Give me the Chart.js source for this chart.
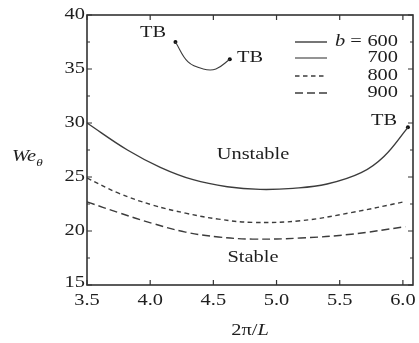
<!DOCTYPE html>
<html>
<head>
<meta charset="utf-8">
<script src="https://cdn.jsdelivr.net/npm/chart.js@4.4.1/dist/chart.umd.min.js"></script>
<style>
  html, body { margin: 0; padding: 0; background: #fff; }
  #wrap { width: 419px; height: 343px; }
</style>
</head>
<body>
<div id="wrap"><canvas id="c" width="419" height="343"></canvas></div>
<script>
// datos
var x600 = [3.5, 3.82, 4.08, 4.34, 4.61, 4.87, 5.13, 5.4, 5.67, 5.85, 6.04];
var y600 = [30.0, 27.5, 25.9, 24.75, 24.1, 23.85, 23.95, 24.35, 25.4, 26.9, 29.6];
var x700 = [4.2, 4.3, 4.42, 4.52, 4.63];
var y700 = [37.5, 35.65, 35.0, 35.0, 35.9];
var x800 = [3.5, 3.75, 4.02, 4.28, 4.54, 4.81, 5.19, 5.59, 6.01];
var y800 = [24.9, 23.5, 22.4, 21.65, 21.1, 20.8, 20.95, 21.7, 22.7];
var x900 = [3.5, 3.75, 4.02, 4.28, 4.54, 4.81, 5.19, 5.59, 6.02];
var y900 = [22.7, 21.7, 20.7, 19.9, 19.45, 19.25, 19.35, 19.7, 20.4];
var tbX = [4.2, 4.63, 6.04];
var tbY = [37.5, 35.9, 29.6];
var seriesNames = ['600', '700', '800', '900'];
var xTicks = [3.5, 4.0, 4.5, 5.0, 5.5, 6.0];
var yTicks = [15, 20, 25, 30, 35, 40];

function pts(xs, ys) { return xs.map(function (v, i) { return {x: v, y: ys[i]}; }); }

var lineCol = '#3c3c3c';
var textCol = '#1e1e1e';
var dashes = [[], [], [4.5, 3.5], [8, 4]];
var FONT = '"Liberation Serif", "Times New Roman", serif';
var SX = 1.2; // el texto original esta algo estirado en horizontal

function txt(ctx, s, x, y, align, size, italic) {
  ctx.save();
  ctx.font = (italic ? 'italic ' : '') + size + 'px ' + FONT;
  ctx.fillStyle = textCol;
  ctx.textBaseline = 'middle';
  var w = ctx.measureText(s).width * SX;
  var x0 = align === 'right' ? x - w : (align === 'center' ? x - w / 2 : x);
  ctx.translate(x0, y);
  ctx.scale(SX, 1);
  ctx.textAlign = 'left';
  ctx.fillText(s, 0, 0);
  ctx.restore();
  return w;
}

var decor = {
  id: 'decor',
  afterDatasetsDraw: function (chart) {
    var ctx = chart.ctx, a = chart.chartArea;
    var xs = chart.scales.x, ys = chart.scales.y;
    ctx.save();
    // marco
    ctx.strokeStyle = '#333';
    ctx.lineWidth = 1.6;
    ctx.strokeRect(a.left, a.top, a.right - a.left, a.bottom - a.top);
    // marcas hacia dentro
    ctx.lineWidth = 1.2;
    ctx.beginPath();
    xTicks.forEach(function (v) {
      var px = xs.getPixelForValue(v);
      ctx.moveTo(px, a.bottom); ctx.lineTo(px, a.bottom - 5);
      ctx.moveTo(px, a.top); ctx.lineTo(px, a.top + 5);
    });
    for (var v = 15; v <= 40; v += 2.5) {
      var py = ys.getPixelForValue(v);
      var len = (v % 5 === 0) ? 5 : 3;
      ctx.moveTo(a.left, py); ctx.lineTo(a.left + len, py);
      ctx.moveTo(a.right, py); ctx.lineTo(a.right - len, py);
    }
    ctx.stroke();
    ctx.restore();

    // etiquetas de los ejes
    xTicks.forEach(function (v) {
      txt(ctx, v.toFixed(1), xs.getPixelForValue(v), a.bottom + 16, 'center', 17);
    });
    yTicks.forEach(function (v) {
      var py = ys.getPixelForValue(v);
      if (v === 15) py -= 2;
      txt(ctx, String(v), a.left - 2, py, 'right', 17);
    });

    // titulo eje x: 2π/L
    ctx.save();
    ctx.font = '17px ' + FONT; var w1 = ctx.measureText('2π/').width * SX;
    ctx.font = 'italic 17px ' + FONT; var w2 = ctx.measureText('L').width * SX;
    ctx.restore();
    var cx = (a.left + a.right) / 2 - (w1 + w2) / 2;
    txt(ctx, '2π/', cx, 331, 'left', 17);
    txt(ctx, 'L', cx + w1, 331, 'left', 17, true);

    // titulo eje y: We_θ
    var ww = txt(ctx, 'We', 12, 157, 'left', 17, true);
    txt(ctx, 'θ', 12 + ww, 163, 'left', 11, true);

    // textos dentro del grafico
    txt(ctx, 'TB', 153, 33, 'center', 17);
    txt(ctx, 'TB', 250, 58, 'center', 17);
    txt(ctx, 'TB', 384, 121, 'center', 17);
    txt(ctx, 'Unstable', 253, 155, 'center', 17);
    txt(ctx, 'Stable', 253, 258, 'center', 17);

    // leyenda
    var rows = [42, 58, 76, 93];
    rows.forEach(function (ry, i) {
      ctx.save();
      ctx.strokeStyle = lineCol;
      ctx.lineWidth = i === 1 ? 1.1 : 1.4;
      ctx.setLineDash(dashes[i]);
      ctx.beginPath();
      ctx.moveTo(295, ry); ctx.lineTo(327, ry);
      ctx.stroke();
      ctx.restore();
      txt(ctx, seriesNames[i], 398, ry, 'right', 17);
    });
    var bw = txt(ctx, 'b', 335, 42, 'left', 17, true);
    txt(ctx, ' =', 335 + bw, 42, 'left', 17);
  }
};

function ds(xs, ys, i) {
  return {
    label: seriesNames[i],
    data: pts(xs, ys),
    borderColor: lineCol,
    borderWidth: i === 1 ? 1.1 : 1.4,
    borderDash: dashes[i],
    pointRadius: 0,
    fill: false,
    tension: 0.4
  };
}

new Chart(document.getElementById('c').getContext('2d'), {
  type: 'line',
  data: {
    datasets: [
      ds(x600, y600, 0),
      ds(x700, y700, 1),
      ds(x800, y800, 2),
      ds(x900, y900, 3),
      {
        label: 'TB',
        data: pts(tbX, tbY),
        showLine: false,
        pointRadius: 2,
        pointBackgroundColor: '#111',
        pointBorderWidth: 0
      }
    ]
  },
  options: {
    responsive: false,
    animation: false,
    layout: { padding: { top: 15, right: 6, left: 0, bottom: 0 } },
    plugins: { legend: { display: false }, tooltip: { enabled: false } },
    scales: {
      x: {
        type: 'linear', min: 3.5, max: 6.08,
        grid: { display: false }, border: { display: false },
        ticks: { display: false },
        afterFit: function (s) { s.height = 58; }
      },
      y: {
        min: 15, max: 40,
        grid: { display: false }, border: { display: false },
        ticks: { display: false },
        afterFit: function (s) { s.width = 87; }
      }
    }
  },
  plugins: [decor]
});
</script>
</body>
</html>
